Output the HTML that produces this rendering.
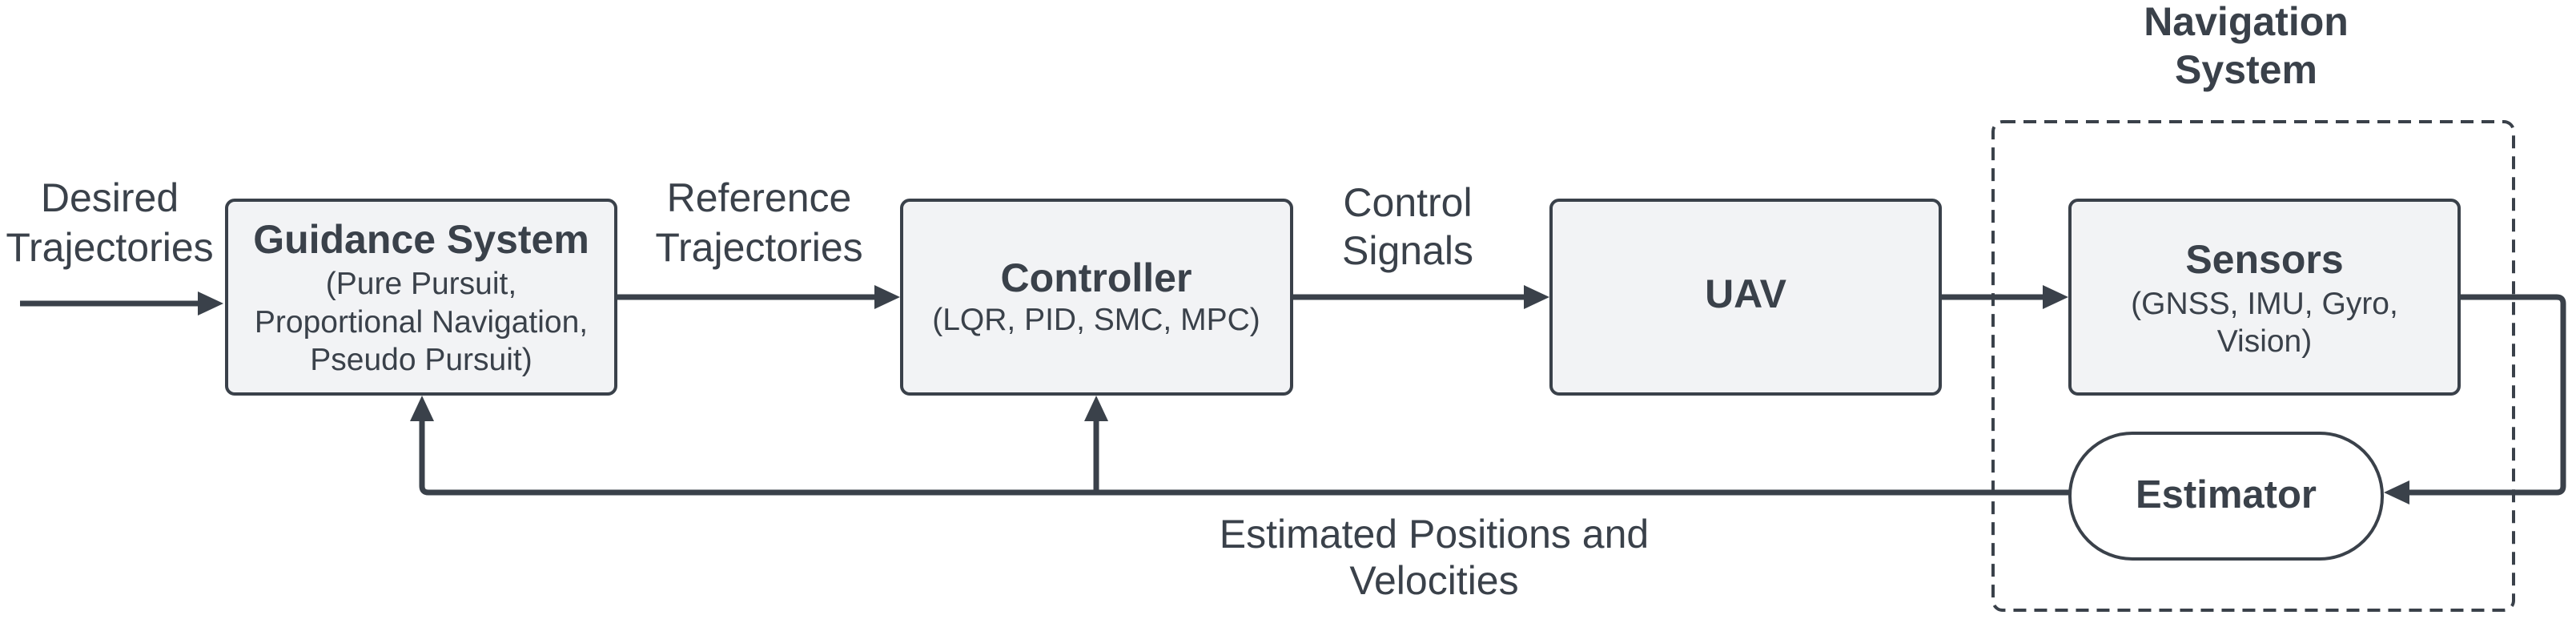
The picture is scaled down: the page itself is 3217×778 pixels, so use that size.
<!DOCTYPE html>
<html><head><meta charset="utf-8"><style>
html,body{margin:0;padding:0;background:#fff;}
svg{display:block;}
text{font-family:"Liberation Sans",Arial,sans-serif;fill:#3a414a;}
.b{font-weight:bold;}
</style></head><body>
<svg width="3217" height="778" viewBox="0 0 3217 778" xmlns="http://www.w3.org/2000/svg">
<g fill="#f2f3f5" stroke="#3a414a" stroke-width="4">
<rect x="283" y="250" width="486" height="242" rx="10"/>
<rect x="1126" y="250" width="487" height="242" rx="10"/>
<rect x="1937" y="250" width="486" height="242" rx="10"/>
<rect x="2585" y="250" width="486" height="242" rx="10"/>
</g>
<rect x="2585" y="541" width="390" height="157" rx="78" fill="#fff" stroke="#3a414a" stroke-width="4"/>
<rect x="2489" y="152" width="650" height="610" rx="12" fill="none" stroke="#3a414a" stroke-width="4" stroke-dasharray="16,10"/>
<g stroke="#3a414a" stroke-width="7" fill="none" stroke-linejoin="round">
<line x1="25" y1="379" x2="255" y2="379"/>
<line x1="769" y1="371" x2="1100" y2="371"/>
<line x1="1613" y1="371" x2="1915" y2="371"/>
<line x1="2423" y1="371" x2="2563" y2="371"/>
<path d="M3071 371 H3193 Q3201 371 3201 379 V607 Q3201 615 3193 615 H2998"/>
<path d="M2585 615 H535 Q527 615 527 607 V515"/>
<line x1="1369" y1="615" x2="1369" y2="515"/>
</g>
<g fill="#3a414a">
<polygon points="279,379 247,364 247,394"/>
<polygon points="1124,371 1092,356 1092,386"/>
<polygon points="1935,371 1903,356 1903,386"/>
<polygon points="2583,371 2551,356 2551,386"/>
<polygon points="2977,615 3009,600 3009,630"/>
<polygon points="527,494 512,526 542,526"/>
<polygon points="1369,494 1354,526 1384,526"/>
</g>
<g text-anchor="middle" font-size="50">
<text x="137" y="264">Desired</text>
<text x="137" y="326">Trajectories</text>
<text x="948" y="264">Reference</text>
<text x="948" y="326">Trajectories</text>
<text x="1758" y="270">Control</text>
<text x="1758" y="330">Signals</text>
<text x="1791" y="684">Estimated Positions and</text>
<text x="1791" y="742">Velocities</text>
<text class="b" x="2805" y="44">Navigation</text>
<text class="b" x="2805" y="104">System</text>
<text class="b" x="526" y="316">Guidance System</text>
<text x="526" y="367" font-size="39">(Pure Pursuit,</text>
<text x="526" y="415" font-size="39">Proportional Navigation,</text>
<text x="526" y="462" font-size="39">Pseudo Pursuit)</text>
<text class="b" x="1369" y="364">Controller</text>
<text x="1369" y="412" font-size="39">(LQR, PID, SMC, MPC)</text>
<text class="b" x="2180" y="384">UAV</text>
<text class="b" x="2828" y="341">Sensors</text>
<text x="2828" y="392" font-size="39">(GNSS, IMU, Gyro,</text>
<text x="2828" y="439" font-size="39">Vision)</text>
<text class="b" x="2780" y="634" font-size="49">Estimator</text>
</g>
</svg>
</body></html>
